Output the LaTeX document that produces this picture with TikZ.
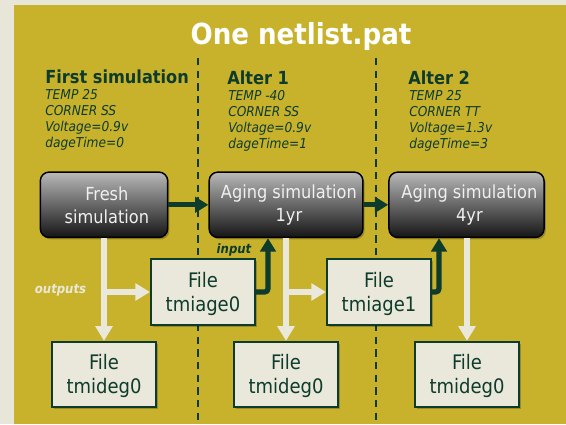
\documentclass[tikz,border=0pt]{standalone}
\usepackage{fontspec}
\setmainfont{DejaVu Sans Condensed}
\usetikzlibrary{arrows.meta,shadows}

\definecolor{panel}{HTML}{C8B22C}
\definecolor{paper}{HTML}{E8E6D9}
\definecolor{deepgreen}{HTML}{0D3B2C}
\definecolor{cream}{HTML}{EAE8DA}

\begin{document}
\begin{tikzpicture}[x=0.75pt,y=-0.75pt,
  titletext/.style={font=\bfseries\fontsize{21.75pt}{26pt}\selectfont, text=white, inner sep=0pt},
  headtext/.style={font=\bfseries\fontsize{13.5pt}{16pt}\selectfont, text=deepgreen, inner sep=0pt},
  paramtext/.style={font=\itshape\fontsize{10.2pt}{12pt}\selectfont, text=deepgreen, inner sep=0pt},
  simtext/.style={font=\fontsize{13.5pt}{17.25pt}\selectfont, text=white!94!black, align=center, inner sep=0pt},
  filetext/.style={font=\fontsize{15pt}{18pt}\selectfont, text=deepgreen, align=center, inner sep=0pt},
  simbox/.style={draw=black, line width=1.1pt, rounded corners=6.5pt,
    top color=gray!55, bottom color=black!92, middle color=gray!80!black,
    minimum height=49pt, inner sep=0pt,
    drop shadow={shadow xshift=1.3pt, shadow yshift=-1.5pt, fill=black, opacity=0.22}},
  filebox/.style={draw=deepgreen, line width=1.5pt, fill=cream,
    minimum width=78pt, minimum height=49pt, inner sep=0pt,
    drop shadow={shadow xshift=1.3pt, shadow yshift=-1.5pt, fill=black, opacity=0.22}},
  greenarrow/.style={draw=deepgreen, line width=3.9pt,
    -{Triangle[length=10pt, width=11.5pt]}},
  creamarrow/.style={draw=cream, line width=4.4pt,
    -{Triangle[length=11pt, width=12.5pt]}},
  sepline/.style={draw=deepgreen, line width=1.5pt, dash pattern=on 5.5pt off 4pt},
  smalllabel/.style={font=\bfseries\itshape\fontsize{9.75pt}{12pt}\selectfont, inner sep=0pt}
]
% canvas and panel
\useasboundingbox (0,0) rectangle (566,424);
\fill[paper] (0,0) rectangle (566,424);
\fill[panel] (14,5) rectangle (566,424);

% column separators
\draw[sepline] (198,58) -- (198,424);
\draw[sepline] (376,58) -- (376,424);

% title
\node[titletext, anchor=base] (title) at (301,44.3) {One netlist.pat};

% column headings and settings
\node[headtext, anchor=base west] (h1) at (45,84) {First simulation};
\node[headtext, anchor=base west] (h2) at (227,85) {Alter 1};
\node[headtext, anchor=base west] (h3) at (408,85) {Alter 2};
\foreach \t [count=\i] in {TEMP 25, CORNER SS, Voltage=0.9v, dageTime=0}
  \node[paramtext, anchor=base west] (pa\i) at (45,83+16*\i) {\t};
\foreach \t [count=\i] in {TEMP -40, CORNER SS, Voltage=0.9v, dageTime=1}
  \node[paramtext, anchor=base west] (pb\i) at (228,84.5+16*\i) {\t};
\foreach \t [count=\i] in {TEMP 25, CORNER TT, Voltage=1.3v, dageTime=3}
  \node[paramtext, anchor=base west] (pc\i) at (409,84.5+16*\i) {\t};

% simulation steps
\node[simbox, minimum width=95.5pt,
  label={[simtext, xshift=2.2pt]center:{Fresh\\simulation}}] (fresh) at (104,204.8) {};
\node[simbox, minimum width=115.3pt,
  label={[simtext, xshift=2.2pt]center:{Aging simulation\\1yr}}] (aging1) at (286,204.8) {};
\node[simbox, minimum width=116.3pt,
  label={[simtext, xshift=2.2pt]center:{Aging simulation\\4yr}}] (aging2) at (466.5,204.8) {};

% files
\node[filebox] (tm0) at (203,292) {};
\node[filetext] (tm0t) at (203,293.5) {File\\tmiage0};
\node[filebox] (tm1) at (379,292) {};
\node[filetext] (tm1t) at (379,293.5) {File\\tmiage1};
\node[filebox] (deg0) at (104,374.5) {};
\node[filetext] (deg0t) at (104,376) {File\\tmideg0};
\node[filebox] (deg1) at (286,374.5) {};
\node[filetext] (deg1t) at (286,376) {File\\tmideg0};
\node[filebox] (deg2) at (467,374.5) {};
\node[filetext] (deg2t) at (467,376) {File\\tmideg0};

% flow between simulations
\draw[greenarrow] (fresh.east) -- (aging1.west);
\draw[greenarrow] (aging1.east) -- (aging2.west);

% outputs
\draw[creamarrow] (fresh.south) -- (deg0.north);
\draw[creamarrow] (fresh.south |- tm0.west) -- (tm0.west);
\draw[creamarrow] (aging1.south) -- (deg1.north);
\draw[creamarrow] (aging1.south |- tm1.west) -- (tm1.west);
\draw[creamarrow] (aging2.south -| deg2.north) -- (deg2.north);

% aging files fed back as inputs
\coordinate (up1) at (268,0);
\coordinate (up2) at (439,0);
\draw[greenarrow, rounded corners=2.5pt] (tm0.east) -| (aging1.south -| up1);
\draw[greenarrow, rounded corners=2.5pt] (tm1.east) -| (aging2.south -| up2);

% labels
\node[smalllabel, text=cream, anchor=base] (outl) at (60.5,293) {outputs};
\node[smalllabel, text=deepgreen, anchor=base] (inl) at (234,253) {input};
\end{tikzpicture}
\end{document}
